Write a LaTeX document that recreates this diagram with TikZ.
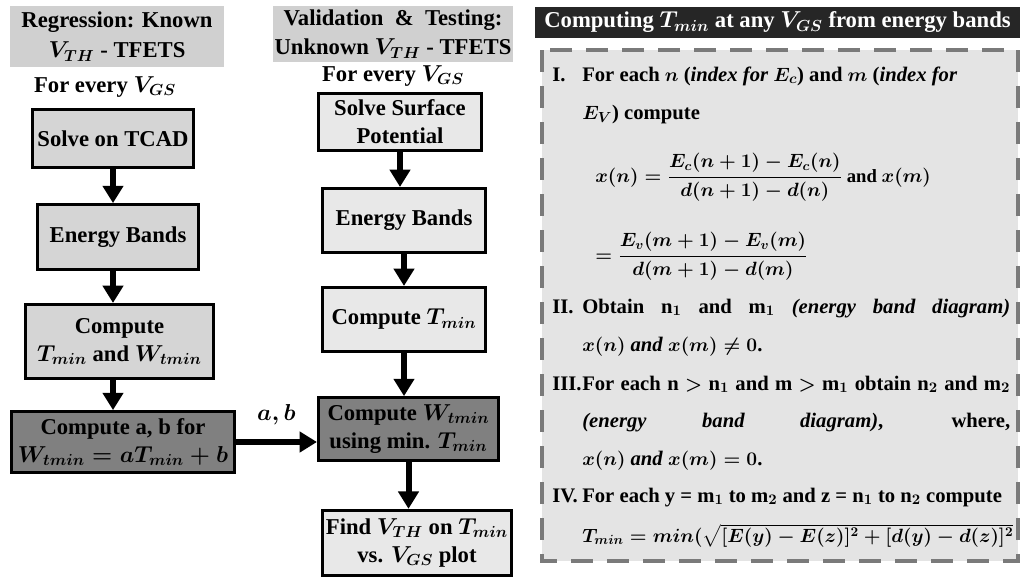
\documentclass[tikz,border=0pt]{standalone}
\usepackage{amsmath, amssymb}
\usepackage{fontspec}
\setmainfont{Liberation Serif}
\usepackage{tikz}
\usetikzlibrary{arrows.meta}
\usepackage{xcolor}

\definecolor{TitleGray}{HTML}{D0D0D0}
\definecolor{BoxLeft}{HTML}{D5D5D5}
\definecolor{BoxMid}{HTML}{E8E8E8}
\definecolor{BoxDark}{HTML}{808080}
\definecolor{PanelGray}{HTML}{E4E4E4}
\definecolor{DashGray}{HTML}{7A7A7A}
\definecolor{HeadBlack}{HTML}{262626}
\newcommand{\bfs}{\fontsize{17}{21}\selectfont\bfseries\boldmath}
\newcommand{\pfs}{\fontsize{15.5}{19}\selectfont\bfseries\boldmath}
\newcommand{\efs}{\fontsize{14}{17}\selectfont\bfseries\boldmath}

\begin{document}
\begin{tikzpicture}[x=0.75pt, y=-0.75pt, >={Triangle[width=15pt, length=13pt]},
  every node/.style={font=\bfs},
  flowbox/.style={draw=black, line width=2.3pt, align=center, inner sep=1pt},
  litebox/.style={flowbox, fill=BoxLeft},
  palebox/.style={flowbox, fill=BoxMid},
  darkbox/.style={flowbox, fill=BoxDark},
  titlebox/.style={fill=TitleGray, align=center, inner sep=1pt},
  flow/.style={->, line width=4.5pt},
  itm/.style={anchor=mid west, inner sep=0pt, font=\pfs},
  eqn/.style={itm, font=\efs}]
  \useasboundingbox (0,0) rectangle (1020,579);

  % regression column
  \node[titlebox, minimum width=160.5pt, minimum height=45.75pt] (ttlA) at (117,36.5)
    {Regression: Known\\[2pt]$V_{TH}$ - TFETS};
  \node (everyA) at (105,87) {For every $V_{GS}$};
  \node[litebox, minimum width=121pt, minimum height=43.5pt] (tcad) at (113,138.5) {Solve on TCAD};
  \node[litebox, minimum width=121pt, minimum height=48.5pt] (bandsA) at (118,237) {Energy Bands};
  \node[litebox, minimum width=141pt, minimum height=55.5pt] (tminA) at (119.5,341.5)
    {Compute\\$T_{min}$ and $W_{tmin}$};
  \node[darkbox, minimum width=167pt, minimum height=45.5pt] (fitA) at (123,442)
    {Compute a, b for\\$W_{tmin} = aT_{min} + b$};
  \foreach \a/\b in {tcad/bandsA, bandsA/tminA, tminA/fitA}
    \draw[flow] (\a.south -| tcad.south) -- (\b.north -| tcad.south);

  % validation column
  \node[titlebox, minimum width=180pt, minimum height=42pt] (ttlB) at (393,34)
    {Validation \ \& \ Testing:\\[1pt]Unknown $V_{TH}$ - TFETS};
  \node (everyB) at (393,76) {For every $V_{GS}$};
  \node[palebox, minimum width=122pt, minimum height=43pt] (surf) at (400,122)
    {Solve Surface\\Potential};
  \node[palebox, minimum width=122pt, minimum height=48pt] (bandsB) at (404,220.5) {Energy Bands};
  \node[palebox, minimum width=122pt, minimum height=48pt] (tminB) at (404,319.5) {Compute $T_{min}$};
  \node[darkbox, minimum width=135pt, minimum height=47pt] (wB) at (408.5,429)
    {Compute $W_{tmin}$\\using min. $T_{min}$};
  \node[palebox, minimum width=142pt, minimum height=49pt] (vth) at (417,543)
    {Find $V_{TH}$ on $T_{min}$\\vs. $V_{GS}$ plot};
  \foreach \a/\b in {surf/bandsB, bandsB/tminB, tminB/wB, wB/vth}
    \draw[flow] (\a.south) -- (\a.south |- \b.north);

  \draw[flow] (fitA.east) -- (fitA.east -| wB.west) node[midway, above=7pt] {$a, b$};

  % T_min panel
  \node[fill=HeadBlack, text=white, minimum width=363.75pt, minimum height=23.25pt, inner sep=0pt]
    (head) at (777.5,22.5) {Computing $T_{min}$ at any $V_{GS}$ from energy bands};
  \draw[fill=PanelGray, draw=DashGray, line width=3pt, dash pattern=on 16.5pt off 10.5pt]
    (542,50) rectangle (1018,561);

  \foreach \r/\y in {I./78, II./310, III./387, IV./499}
    \node[itm] at (552,\y) {\r};
  \node[itm] (s1a) at (582,78) {For each $n$ (\textit{index for} $E_c$) and $m$ (\textit{index for}};
  \node[itm] (s1b) at (582,116) {$E_V$) compute};
  \node[eqn] (eq1) at (595,179)
    {$x(n) = \dfrac{E_c(n+1) - E_c(n)}{d(n+1) - d(n)}$ and $x(m)$};
  \node[eqn] (eq2) at (595,258)
    {$= \dfrac{E_v(m+1) - E_v(m)}{d(m+1) - d(m)}$};
  \node[itm] (s2a) at (582,310)
    {\makebox[321pt][s]{Obtain n$_1$ and m$_1$ \textit{(energy band diagram)}}};
  \node[itm] (s2b) at (582,348) {$x(n)$ \textit{and} $x(m) \neq 0$.};
  \node[itm] (s3a) at (582,387)
    {\makebox[321pt][s]{For each n $>$ n$_1$ and m $>$ m$_1$ obtain n$_2$ and m$_2$}};
  \node[itm] (s3b) at (582,424)
    {\makebox[321pt][s]{\textit{(energy band diagram)}, where,}};
  \node[itm] (s3c) at (582,462) {$x(n)$ \textit{and} $x(m) = 0$.};
  \node[itm] (s4a) at (582,499) {For each y = m$_1$ to m$_2$ and z = n$_1$ to n$_2$ compute};
  \node[eqn] (s4b) at (582,539)
    {$T_{min} = min(\sqrt{[E(y) - E(z)]^2 + [d(y) - d(z)]^2}$};
\end{tikzpicture}
\end{document}
